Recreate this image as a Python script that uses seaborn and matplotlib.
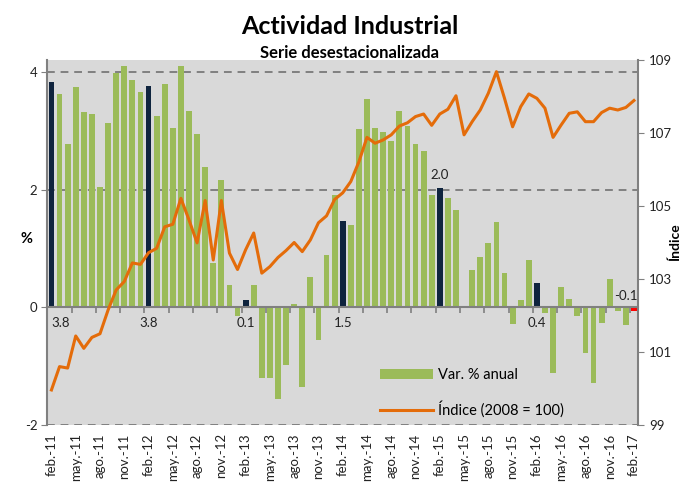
import numpy as np
import pandas as pd
import matplotlib
matplotlib.use("Agg")
import matplotlib.pyplot as plt
import seaborn as sns
from matplotlib.patches import Patch
from matplotlib.lines import Line2D

# ---------------- data ----------------
meses = ["ene", "feb", "mar", "abr", "may", "jun", "jul", "ago", "set", "oct", "nov", "dic"]
periodos = [f"{meses[(1 + k) % 12]}.-{11 + (1 + k) // 12}" for k in range(73)]

var_anual = [3.83, 3.63, 2.77, 3.74, 3.32, 3.28, 2.05, 3.13, 3.98, 4.09, 3.86, 3.65,
             3.76, 3.25, 3.80, 3.04, 4.09, 3.34, 2.94, 2.39, 0.75, 2.16, 0.38, -0.15,
             0.13, 0.38, -1.21, -1.21, -1.56, -0.98, 0.05, -1.35, 0.52, -0.56, 0.89, 1.90,
             1.46, 1.40, 3.03, 3.53, 3.05, 2.97, 2.83, 3.34, 3.08, 2.78, 2.66, 1.91,
             2.03, 1.86, 1.65, 0.00, 0.64, 0.85, 1.10, 1.44, 0.59, -0.29, 0.13, 0.81,
             0.41, -0.09, -1.11, 0.34, 0.14, -0.14, -0.78, -1.28, -0.26, 0.48, -0.06, -0.30,
             -0.06]

indice = [99.96, 100.60, 100.56, 101.44, 101.10, 101.40, 101.50, 102.15, 102.70, 102.93, 103.44, 103.40,
          103.72, 103.84, 104.43, 104.50, 105.21, 104.62, 103.99, 105.15, 103.52, 105.15, 103.71, 103.26,
          103.80, 104.26, 103.16, 103.34, 103.59, 103.78, 104.00, 103.75, 104.07, 104.54, 104.73, 105.18,
          105.36, 105.67, 106.21, 106.88, 106.72, 106.81, 106.95, 107.19, 107.28, 107.45, 107.52, 107.21,
          107.52, 107.65, 108.02, 106.95, 107.31, 107.63, 108.09, 108.68, 107.95, 107.17, 107.72, 108.07,
          107.95, 107.68, 106.88, 107.22, 107.54, 107.58, 107.31, 107.31, 107.56, 107.68, 107.63, 107.70,
          107.89]

# months whose bars are highlighted (February of each year) and the last one
destacados = [0, 12, 24, 36, 48, 60]
ultimo = 72

titulo = "Actividad Industrial"
subtitulo = "Serie desestacionalizada"
leyenda = ["Var. % anual", "Índice (2008 = 100)"]

# ---------------- style ----------------
VERDE = "#9BBB59"
AZUL = "#0F243E"
ROJO = "#FF0000"
NARANJA = "#E46C0A"
GRIS = "#808080"
FONDO = "#D9D9D9"

plt.rcParams["font.family"] = ["Lato", "DejaVu Sans"]

colores = []
for i in range(len(periodos)):
    if i == ultimo:
        colores.append(ROJO)
    elif i in destacados:
        colores.append(AZUL)
    else:
        colores.append(VERDE)

df = pd.DataFrame({"periodo": periodos, "var": var_anual, "indice": indice,
                   "pos": np.arange(len(periodos))})

fig = plt.figure(figsize=(6.86, 4.87), dpi=100)
ax = fig.add_axes([47 / 686, 1 - 425 / 487, (638 - 47) / 686, (425 - 60) / 487])
ax.set_facecolor(FONDO)

sns.barplot(data=df, x="periodo", y="var", hue="periodo", palette=colores,
            legend=False, width=0.72, ax=ax, saturation=1, linewidth=0, zorder=2)

ax.set_xlim(-0.55, len(periodos) - 0.5)
ax.set_ylim(-2, 4.2)
ax.set_yticks([-2, 0, 2, 4])
ax.set_yticklabels(["-2", "0", "2", "4"], fontsize=9.5, color="#222222")
ax.yaxis.grid(True, linestyle=(0, (4, 3)), color=GRIS, linewidth=1.4)
ax.xaxis.grid(False)
ax.set_axisbelow(True)
ax.tick_params(axis="y", length=4, color=GRIS, pad=3)

# category axis crossing at zero
ax.spines["bottom"].set_position(("data", 0))
ax.spines["bottom"].set_color(GRIS)
ax.spines["bottom"].set_linewidth(1.5)
ax.spines["bottom"].set_zorder(3)
ax.spines["top"].set_visible(False)
ax.spines["right"].set_visible(False)
ax.spines["left"].set_color(GRIS)
ax.spines["left"].set_linewidth(1.5)
pos_lab = list(range(0, len(periodos), 3))
ax.set_xticks(pos_lab)
ax.set_xticklabels([""] * len(pos_lab))
ax.tick_params(axis="x", which="major", length=0)
ax.set_xticks(np.arange(-0.5, len(periodos), 3), minor=True)
ax.tick_params(axis="x", which="minor", length=4, color=GRIS, width=1.2, direction="out")
ax.set_xlabel("")
ax.set_ylabel("%", fontsize=10.5, fontweight="bold", rotation=0)
ax.yaxis.set_label_coords(-0.035, 0.49)

# tick labels at bottom
sec = ax.secondary_xaxis("bottom")
sec.set_xticks(pos_lab)
sec.set_xticklabels([periodos[i] for i in pos_lab], rotation=90, fontsize=9.5, color="#222222")
sec.tick_params(length=0, pad=6)
sec.spines["bottom"].set_visible(False)

# data labels for highlighted bars
for i in destacados + [ultimo]:
    v = var_anual[i]
    txt = f"{v:.1f}"
    if i == 0:
        ax.text(i - 0.05, -0.27, txt, ha="left", va="center", fontsize=9.5, color="#222222")
    elif i == ultimo:
        ax.text(i + 0.4, 0.19, txt, ha="right", va="center", fontsize=9.5, color="#222222")
    elif i == 48:
        ax.text(i, v + 0.22, txt, ha="center", va="center", fontsize=9.5, color="#222222")
    else:
        ax.text(i, -0.27, txt, ha="center", va="center", fontsize=9.5, color="#222222")

# index line on secondary axis
ax2 = ax.twinx()
sns.lineplot(data=df, x="pos", y="indice", color=NARANJA, linewidth=2.2, ax=ax2)
ax2.set_ylim(99, 109)
ax2.set_yticks([99, 101, 103, 105, 107, 109])
ax2.set_yticklabels(["99", "101", "103", "105", "107", "109"], fontsize=9.5, color="#222222")
ax2.tick_params(axis="y", length=4, color=GRIS, pad=4)
for s in ["top", "left", "bottom"]:
    ax2.spines[s].set_visible(False)
ax2.spines["right"].set_color(GRIS)
ax2.spines["right"].set_linewidth(1.5)
ax2.set_xlim(ax.get_xlim())
ax2.set_xlabel("")
ax2.set_ylabel("Índice", fontsize=10, fontweight="bold")
ax2.yaxis.set_label_coords(1.052, 0.5)

handles = [Patch(facecolor=VERDE, edgecolor="none"),
           Line2D([0], [0], color=NARANJA, linewidth=2.2)]
ax2.legend(handles, leyenda, loc="upper left", bbox_to_anchor=(380 / 686, 1 - 368 / 487),
           bbox_transform=fig.transFigure, frameon=False, fontsize=10.5,
           handlelength=3.6, handleheight=0.7, handletextpad=0.4, labelspacing=1.3,
           borderpad=0, borderaxespad=0)

fig.text(350 / 686, 1 - 27 / 487, titulo, ha="center", va="center", fontsize=18, fontweight="bold")
fig.text(349 / 686, 1 - 53 / 487, subtitulo, ha="center", va="center", fontsize=12, fontweight="bold")

fig.savefig("out.png", dpi=100, facecolor="white")
